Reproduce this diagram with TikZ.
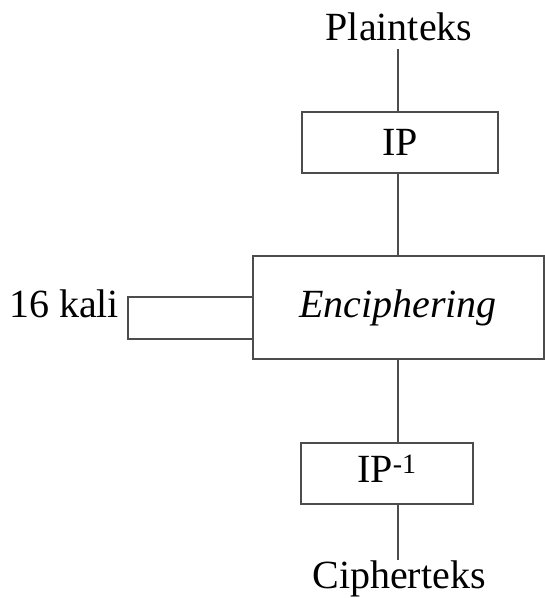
\documentclass[tikz,border=0pt]{standalone}
\usepackage{fontspec}
\setmainfont{Liberation Serif}
\begin{document}
\begin{tikzpicture}[x=1pt, y=-1pt, every node/.style={font=\fontsize{40}{48}\selectfont}, every path/.style={line width=2pt, color=black!70},
    box/.style={draw, rectangle, inner sep=0pt}, lbl/.style={inner sep=0pt, outer sep=0pt, text=black}]
    \useasboundingbox (0,0) rectangle (545,598);

    \node[lbl, anchor=base, outer sep=9pt] (plain) at (399,40) {Plainteks};

    \node[box, text=black, minimum width=196, minimum height=61] (ip) at (400,142.5) {IP};

    \node[box, text=black, minimum width=291, minimum height=103] (enc) at (398,307.5) {\textit{Enciphering}};
    \node[lbl, anchor=base east] (kali) at (119,317) {16 kali};
    \coordinate (ltop) at (128,297);
    \coordinate (lbot) at (128,339);

    \node[box, text=black, minimum width=172, minimum height=61] (ipinv) at (387,473.5) {\raisebox{9pt}{IP\textsuperscript{-1}}};

    \node[lbl, anchor=base, outer sep=0pt] (cipher) at (399,588) {Cipherteks};

    \draw[] (plain.south -| enc.north) to (enc.north |- ip.north);
    \draw[] (enc.north |- ip.south) to (enc.north);
    \draw[] (enc.south) to (enc.south |- ipinv.north);
    \draw[] (enc.south |- ipinv.south) to (enc.south |- cipher.north);
    \draw[] (enc.west |- ltop) -- (ltop) -- (lbot) -- (enc.west |- lbot);

\end{tikzpicture}
\end{document}
